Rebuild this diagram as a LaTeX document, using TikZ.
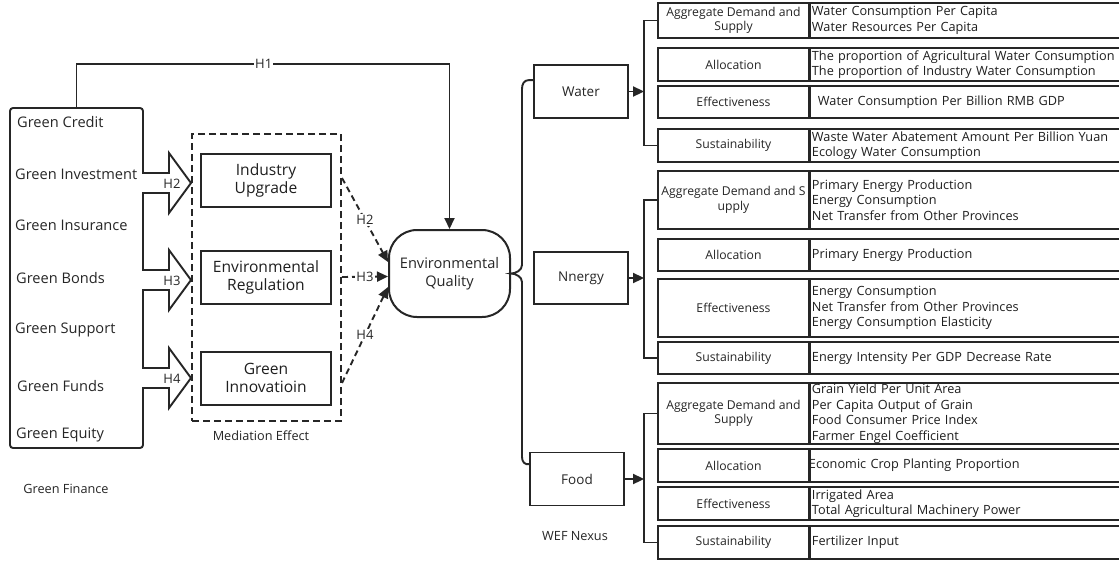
\documentclass[tikz,border=0pt]{standalone}
\usepackage{fontspec}
\setmainfont{Open Sans}
\usetikzlibrary{arrows.meta,calc}
\newcommand\wefrow[5]{%
  \node[rowlab, minimum height=#3pt] (#1l) at (733.5,#2) {#4};
  \node[rowcont, minimum height=#3pt, anchor=west] (#1c) at (809,#2) {#5};}
\begin{document}
\begin{tikzpicture}[x=1pt,y=-1pt,
  ln/.style={draw=black!85, line width=1.9pt},
  tip/.style={-{Triangle[length=11pt,width=10pt]}},
  gfitem/.style={anchor=west, inner sep=0pt, text=black!85, font=\fontsize{14.6}{17}\selectfont},
  plain/.style={inner sep=0pt, text=black!85, font=\fontsize{12.7}{15}\selectfont},
  mbox/.style={draw=black!85, line width=2pt, minimum width=130pt, minimum height=53pt, inner sep=0pt, align=center, text=black!88, font=\fontsize{15.6}{18.5}\selectfont},
  catbox/.style={draw=black!85, line width=1.9pt, minimum width=94pt, minimum height=53pt, inner sep=0pt, text=black!85, font=\fontsize{13.5}{15}\selectfont},
  rowlab/.style={draw=black!85, line width=1.9pt, minimum width=151pt, inner sep=0pt, align=center, text=black!85, font=\fontsize{12.2}{14.5}\selectfont},
  rowcont/.style={draw=black!85, line width=1.9pt, text width=312pt, inner xsep=2pt, inner ysep=0pt, align=left, text=black!88, font=\fontsize{12.7}{15.6}\selectfont},
  hlab/.style={inner sep=1pt, fill=white, text=black!85, font=\fontsize{13}{15}\selectfont},
  blockarr/.style={ln, line width=1.9pt, line join=miter, fill=white},
  dasharr/.style={draw=black!85, line width=1.9pt, dash pattern=on 6pt off 4pt, -{Triangle[length=11pt,width=10pt]}}
]
\clip (0,0) rectangle (1119,560);
\fill[white] (0,0) rectangle (1119,560);

% ---------- Green Finance ----------
\node[ln, rounded corners=3pt, minimum width=133pt, minimum height=340pt, inner sep=0pt] (gf) at (76.5,278) {};
\node[gfitem] (gf1) at (17,122) {Green Credit};
\node[gfitem] (gf2) at (15,174) {Green Investment};
\node[gfitem] (gf3) at (15,225) {Green Insurance};
\node[gfitem] (gf4) at (16,278) {Green Bonds};
\node[gfitem] (gf5) at (15,330) {Green Support};
\node[gfitem] (gf6) at (17,386) {Green Funds};
\node[gfitem] (gf7) at (16,435) {Green Equity};
\node[plain] (gflab) at (66,489) {Green Finance};

% ---------- Mediation ----------
\node[draw=black!85, line width=2pt, dash pattern=on 7pt off 4pt, minimum width=149pt, minimum height=287pt, inner sep=0pt] (med) at (266.5,277.5) {};
\node[mbox] (iu) at (266,180.5) {Industry\\Upgrade};
\node[mbox] (er) at (266,277.5) {Environmental\\Regulation};
\node[mbox] (gi) at (266,378) {Green\\Innovatioin};
\node[plain] (medlab) at (261,436) {Mediation Effect};

% block arrows
\coordinate (t2) at ($(med.west)+(0,-94.5)$);
\coordinate (t3) at ($(med.west)+(0,2.5)$);
\coordinate (t4) at ($(med.west)+(0,100.5)$);
\foreach \t/\h in {t2/H2,t3/H3,t4/H4}{
  \draw[blockarr] ($(\t)+(-49,-10)$) -- ++(27,0) -- ++(0,-20) -- (\t) -- ++(-22,30) -- ++(0,-20) -- ++(-27,0);
  \node[inner sep=0pt, text=black!85, font=\fontsize{13}{15}\selectfont] at ($(\t)+(-19,1)$) {\h};
}

% ---------- Environmental Quality ----------
\node[draw=black!85, line width=2pt, rounded corners=28pt, minimum width=121pt, minimum height=87pt, inner sep=0pt, align=center, text=black!85, font=\fontsize{14.6}{18.5}\selectfont] (eq) at (449.5,273.5) {Environmental\\Quality};

% H1
\draw[ln, tip] (gf.north) -- ++(0,-43) -| node[hlab, pos=0.251] {H1} (eq.north);

% dashed mediation arrows
\draw[dasharr] ($(med.east)+(0,-99.5)$) -- node[hlab] {H2} ($(eq.west)+(0,-11.5)$);
\draw[dasharr] ($(med.east)+(0,-0.5)$) -- node[hlab] {H3} ($(eq.west)+(0,3)$);
\draw[dasharr] ($(med.east)+(0,105.5)$) -- node[hlab] {H4} ($(eq.west)+(0,13.5)$);

% ---------- WEF categories ----------
\node[catbox] (water) at (581,91.5) {Water};
\node[catbox, minimum height=52pt] (energy) at (581,278) {Nnergy};
\node[catbox] (food) at (577,479) {Food};
\node[plain] (weflab) at (575,536) {WEF Nexus};

% big brace
\draw[ln] ([yshift=-16pt]water.north west) -- ++(-4,0)
  .. controls ++(-5,0) and (522,84) .. (522,89) -- (522,265)
  .. controls (522,270) and (516,273.5) .. (eq.east)
  .. controls (516,273.5) and (522,277) .. (522,282) -- (522,457)
  .. controls (522,462) and (525,465) .. ([yshift=-12.5pt]food.north west);

% ---------- rows ----------
\wefrow{w1}{20.5}{35}{Aggregate Demand and\\Supply}{Water Consumption Per Capita\\Water Resources Per Capita}
\wefrow{w2}{64.5}{33}{Allocation}{The proportion of Agricultural Water Consumption\\The proportion of Industry Water Consumption}
\wefrow{w3}{102}{32}{Effectiveness}{\hspace*{6pt}Water Consumption Per Billion RMB GDP}
\wefrow{w4}{145.5}{33}{Sustainability}{Waste Water Abatement Amount Per Billion Yuan\\Ecology Water Consumption}

\wefrow{e1}{200}{58}{Aggregate Demand and S\\upply}{Primary Energy Production\\Energy Consumption\\Net Transfer from Other Provinces}
\wefrow{e2}{255}{32}{Allocation}{Primary Energy Production}
\wefrow{e3}{308}{58}{Effectiveness}{Energy Consumption\\Net Transfer from Other Provinces\\Energy Consumption Elasticity}
\wefrow{e4}{358}{32}{Sustainability}{Energy Intensity Per GDP Decrease Rate}

\wefrow{f1}{413.5}{61}{Aggregate Demand and\\Supply}{Grain Yield Per Unit Area\\Per Capita Output of Grain\\Food Consumer Price Index\\Farmer Engel Coefficient}
\wefrow{f2}{465.5}{33}{Allocation}{\hspace*{-3pt}Economic Crop Planting Proportion}
\wefrow{f3}{503.5}{33}{Effectiveness}{Irrigated Area\\Total Agricultural Machinery Power}
\wefrow{f4}{542.5}{33}{Sustainability}{Fertilizer Input}

% brackets
\foreach \a/\b/\c in {w1l/w4l/water, e1l/e4l/energy, f1l/f4l/food}{
  \draw[ln] (\a.west) -- ++(-13,0) coordinate (br) |- (\b.west);
  \draw[ln, tip] (\c.east) -- (\c.east -| br);
}
\end{tikzpicture}
\end{document}
